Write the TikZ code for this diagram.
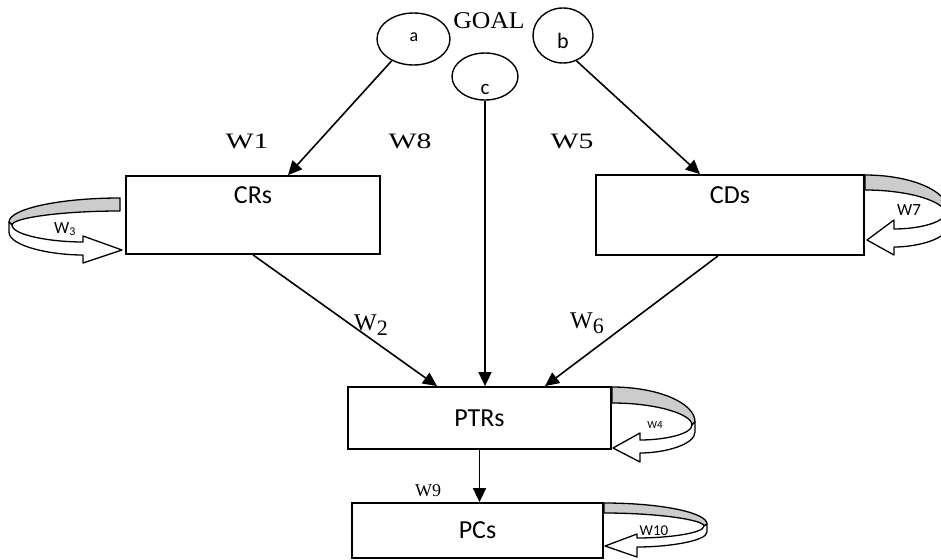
\documentclass[tikz,border=0pt]{standalone}
\usepackage{fontspec}
\setmainfont{Liberation Serif}
\setsansfont{Carlito}
\usepackage{graphicx}
\usetikzlibrary{shapes.geometric,arrows.meta,calc}
\begin{document}
\begin{tikzpicture}[x=1pt,y=-1pt,
  box/.style={draw,line width=1.8pt,rectangle,inner sep=0pt,font=\fontsize{26}{30}\selectfont\sffamily},
  ell/.style={draw,line width=1.4pt,ellipse,inner sep=0pt},
  elab/.style={font=\sffamily,inner sep=0pt},
  con/.style={line width=1.6pt,-{Triangle[length=14pt,width=13pt]}},
  wlab/.style={font=\fontsize{22}{26}\selectfont,inner sep=0pt},
  rib/.style={draw,line width=1.3pt,line join=round},
  ribgray/.style={rib,fill=black!20},
  ribfront/.style={rib,fill=white},
  rlab/.style={font=\sffamily,inner sep=0pt}
]
\useasboundingbox (0,0) rectangle (941,559);

% boxes
\node[box,minimum width=254pt,minimum height=78pt,text height=17pt,text depth=41pt] (crs) at (253,215) {CRs};
\node[box,minimum width=268pt,minimum height=80pt,text height=17pt,text depth=41pt] (cds) at (730,215) {CDs};
\node[box,minimum width=263pt,minimum height=62pt] (ptrs) at (479.5,418) {PTRs};
\node[box,minimum width=251pt,minimum height=55pt] (pcs) at (477.5,530.5) {PCs};

% ellipses
\node[ell,minimum width=73pt,minimum height=52pt] (a) at (413.5,39) {};
\node[elab,font=\fontsize{18}{21}\selectfont\sffamily] (alab) at (414,37.5) {a};
\node[ell,minimum width=60pt,minimum height=55pt] (b) at (563,35.5) {};
\node[elab,font=\fontsize{22}{26}\selectfont\sffamily] (blab) at (563,40.5) {b};
\node[ell,minimum width=66pt,minimum height=47pt] (c) at (485,76.5) {};
\node[elab,font=\fontsize{21}{25}\selectfont\sffamily] (clab) at (485,89) {c};

\node[font=\fontsize{24}{28}\selectfont,inner sep=0pt] (goal) at (489,21) {\scalebox{1.07}[1]{GOAL}};

% connectors
\draw[con] (a.225) -- ($(crs.north)+(35,0)$);
\draw[con] (b.298) -- ($(cds.north)+(-30,0)$);
\draw[con] (c.south) -- (c.south |- ptrs.north);
\draw[con] (crs.south) -- ($(ptrs.north)+(-42.5,0)$);
\draw[con] ($(cds.south)+(-12,0)$) -- ($(ptrs.north)+(65.5,0)$);
\draw[con] (ptrs.south) -- (ptrs.south |- pcs.north);

% weight labels
\node[wlab] (w1) at (247,141) {\scalebox{1.35}[1]{W1}};
\node[wlab] (w8) at (410,141) {\scalebox{1.35}[1]{W8}};
\node[wlab] (w5) at (572,141) {\scalebox{1.35}[1]{W5}};
\node[wlab,font=\fontsize{24}{28}\selectfont] (w2) at (371,325) {W\raisebox{-5pt}{\fontsize{22}{26}\selectfont 2}};
\node[wlab,font=\fontsize{24}{28}\selectfont] (w6) at (587,323) {W\raisebox{-5pt}{\fontsize{22}{26}\selectfont 6}};
\node[font=\fontsize{18}{22}\selectfont,inner sep=0pt] (w9) at (428,491) {W9};

% self-loop ribbon W3 (CRs, left)
\draw[ribgray] (120,198) .. controls (59,198) and (9,209) .. (9,222) -- (12,225)
  .. controls (12,218) and (61,211) .. (120,211) -- cycle;
\draw[ribfront] (9,222) -- (9,232) .. controls (9,246) and (50,255) .. (83,255)
  -- (83,263) -- (122,250) -- (83,236) -- (83,242)
  .. controls (50,242) and (12,235) .. (12,225) -- cycle;
\node[rlab,font=\fontsize{17}{20}\selectfont\sffamily] (w3) at (65,229) {W\textsubscript{3}};

% self-loop ribbon W7 (CDs, right)
\draw[ribgray] (865,175) .. controls (911,175) and (948,191) .. (948,210) -- (945,213)
  .. controls (945,201.5) and (909,190) .. (865,190) -- cycle;
\draw[ribfront] (948,210) -- (948,226) .. controls (948,238.6) and (918.3,247) .. (894,247)
  -- (894,255) -- (867,240) -- (894,220) -- (894,229)
  .. controls (918.3,229) and (945,222.6) .. (945,213) -- cycle;
\node[rlab,font=\fontsize{17}{20}\selectfont\sffamily] (w7) at (909,210) {W7};

% self-loop ribbon W4 (PTRs)
\draw[ribgray] (612,387) .. controls (657.6,387) and (695,402.7) .. (695,422) -- (692,425)
  .. controls (692,414) and (656,403) .. (612,403) -- cycle;
\draw[ribfront] (695,422) -- (695,432) .. controls (695,444.6) and (664.8,453) .. (640,453)
  -- (640,462) -- (613,448) -- (640,433) -- (640,440)
  .. controls (664.8,440) and (692,434) .. (692,425) -- cycle;
\node[rlab,font=\fontsize{11}{13}\selectfont\sffamily] (w4) at (655,425) {W4};

% self-loop ribbon W10 (PCs)
\draw[ribgray] (604,503) .. controls (660.7,503) and (707,512.5) .. (707,524) -- (704,526)
  .. controls (704,520) and (659,513) .. (604,513) -- cycle;
\draw[ribfront] (707,524) -- (707,532) .. controls (707,541) and (668.5,547) .. (637,547)
  -- (637,557) -- (605,546) -- (637,534) -- (637,538)
  .. controls (668.5,538) and (704,533.2) .. (704,526) -- cycle;
\node[rlab,font=\fontsize{15}{18}\selectfont\sffamily] (w10) at (654,531) {W10};
\end{tikzpicture}
\end{document}
